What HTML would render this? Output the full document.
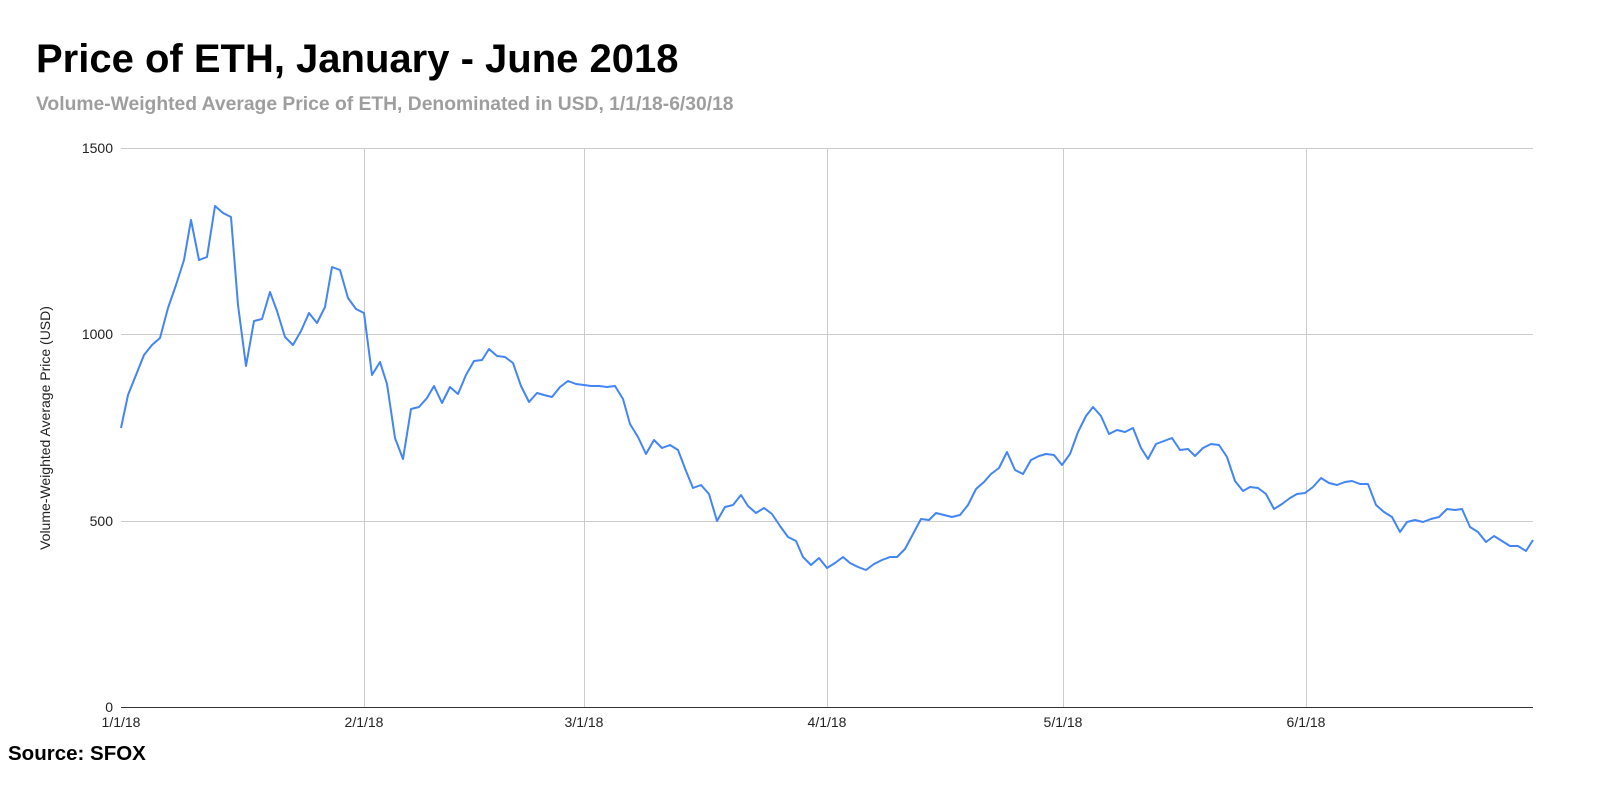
<!DOCTYPE html>
<html><head><meta charset="utf-8"><style>
body{margin:0;background:#fff;width:1600px;height:783px;overflow:hidden;font-family:"Liberation Sans",sans-serif}
</style></head><body>
<svg width="1600" height="783" xmlns="http://www.w3.org/2000/svg" font-family="Liberation Sans, sans-serif">
<text x="36" y="72" font-size="40" font-weight="bold" fill="#000">Price of ETH, January - June 2018</text>
<text x="36" y="110" font-size="19.3" font-weight="bold" fill="#9e9e9e">Volume-Weighted Average Price of ETH, Denominated in USD, 1/1/18-6/30/18</text>
<g stroke="#ccc" stroke-width="1">
<line x1="121" y1="148.5" x2="1533" y2="148.5"/>
<line x1="121" y1="334.5" x2="1533" y2="334.5"/>
<line x1="121" y1="521.5" x2="1533" y2="521.5"/>
<line x1="364.5" y1="148" x2="364.5" y2="707"/>
<line x1="584.5" y1="148" x2="584.5" y2="707"/>
<line x1="827.5" y1="148" x2="827.5" y2="707"/>
<line x1="1063.5" y1="148" x2="1063.5" y2="707"/>
<line x1="1306.5" y1="148" x2="1306.5" y2="707"/>
</g>
<line x1="121" y1="707.5" x2="1533" y2="707.5" stroke="#333" stroke-width="1"/>
<g font-size="14" fill="#222" text-anchor="end">
<text x="113" y="153">1500</text><text x="113" y="339">1000</text><text x="113" y="526">500</text><text x="113" y="712">0</text>
</g>
<g font-size="14" fill="#222" text-anchor="middle">
<text x="121" y="727">1/1/18</text><text x="364" y="727">2/1/18</text><text x="584" y="727">3/1/18</text><text x="827" y="727">4/1/18</text><text x="1063" y="727">5/1/18</text><text x="1306" y="727">6/1/18</text>
</g>
<text transform="translate(50,428) rotate(-90)" font-size="14" fill="#222" text-anchor="middle">Volume-Weighted Average Price (USD)</text>
<polyline fill="none" stroke="#4285f4" stroke-width="2" stroke-linejoin="round" points="121,428 128,395 136,375 144,355 152,345 160,338 168,308 176,285 184,260 191,220 199,260 207,257 215,206 223,213 231,217 238,305 246,366 254,321 262,319 270,292 277,311 285,337 293,345 301,331 309,313 317,323 325,307 332,267 340,270 348,298 356,309 364,313 372,375 380,362 387,384 395,438 403,459 411,409 419,407 427,398 434,386 442,403 450,387 458,394 466,375 474,361 482,360 489,349 497,356 505,357 513,363 521,386 529,402 537,393 544,395 552,397 560,387 568,381 576,384 584,385 591,386 599,386 607,387 615,386 623,399 630,424 638,437 646,454 654,440 662,448 670,445 678,450 686,471 693,488 701,485 709,494 717,521 725,507 733,505 741,495 748,506 756,513 764,508 772,514 780,526 788,537 796,541 803,557 811,565 819,558 827,568 835,563 843,557 850,563 858,567 866,570 874,564 882,560 890,557 897,557 905,549 913,534 921,519 929,520 936,513 944,515 952,517 960,515 968,505 976,489 984,482 991,474 999,468 1007,452 1015,470 1023,474 1031,460 1039,456 1046,454 1054,455 1062,465 1070,454 1078,432 1086,416 1093,407 1101,416 1109,434 1117,430 1125,432 1133,428 1141,448 1148,459 1156,444 1164,441 1172,438 1180,450 1188,449 1195,456 1203,448 1211,444 1219,445 1227,457 1235,481 1243,491 1250,487 1258,488 1266,494 1274,509 1282,504 1290,498 1297,494 1305,493 1313,487 1321,478 1329,483 1337,485 1345,482 1352,481 1360,484 1368,484 1376,505 1384,512 1392,517 1400,532 1407,522 1415,520 1423,522 1431,519 1439,517 1447,509 1455,510 1462,509 1470,527 1478,532 1486,542 1494,536 1502,541 1510,546 1518,546 1526,551 1533,540"/>
<text x="8" y="760" font-size="20.5" font-weight="bold" fill="#000">Source: SFOX</text>
</svg>
</body></html>
